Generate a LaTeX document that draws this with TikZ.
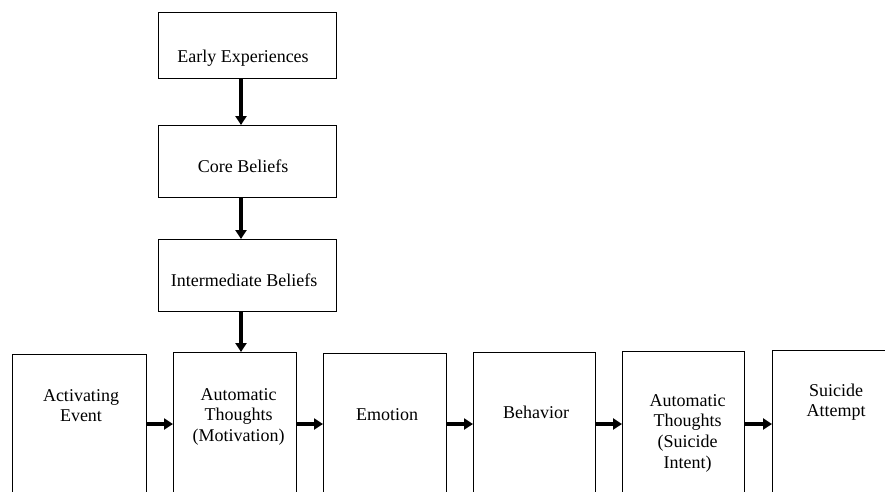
\documentclass[tikz,border=0pt]{standalone}
\usepackage{fontspec}
\setmainfont{Liberation Serif}
\usetikzlibrary{arrows.meta}
% fixes the height of the first text line so captions sit on a known baseline
\newcommand{\firstline}{\rule{0pt}{13pt}}
\begin{document}
\begin{tikzpicture}[x=1pt,y=-1pt,
  box/.style={draw, line width=1.3pt, rectangle, inner sep=0pt, anchor=north west},
  caption/.style={font=\fontsize{18}{20.6}\selectfont, align=center, inner sep=0pt, anchor=north},
  flow/.style={line width=3.4pt, -{Triangle[length=9pt,width=11pt]}}
]
\fill[white] (0,0) rectangle (885,491);
\clip (0,0) rectangle (885,491);

% vertical chain of beliefs
\node[box, minimum width=178pt, minimum height=66pt] (early) at (158,12) {};
\node[box, minimum width=178pt, minimum height=72pt] (core)  at (158,125) {};
\node[box, minimum width=178pt, minimum height=72pt] (inter) at (158,239) {};

\node[caption] (earlyT) at (243,49)  {\firstline Early Experiences};
\node[caption] (coreT)  at (243,159) {\firstline Core Beliefs};
\node[caption] (interT) at (244,273) {\firstline Intermediate Beliefs};

% horizontal sequence, boxes run past the lower edge
\node[box, minimum width=134pt, minimum height=200pt] (act) at (12,354)  {};
\node[box, minimum width=123pt, minimum height=200pt] (atm) at (173,352) {};
\node[box, minimum width=123pt, minimum height=200pt] (emo) at (323,353) {};
\node[box, minimum width=122pt, minimum height=200pt] (beh) at (473,352) {};
\node[box, minimum width=122pt, minimum height=200pt] (ats) at (622,351) {};
\node[box, minimum width=150pt, minimum height=200pt] (att) at (772,350) {};

\node[caption] (actT) at (81,388)    {\firstline Activating\\Event};
\node[caption] (atmT) at (238.5,387) {\firstline Automatic\\Thoughts\\(Motivation)};
\node[caption] (emoT) at (387,407)   {\firstline Emotion};
\node[caption] (behT) at (536,405)   {\firstline Behavior};
\node[caption] (atsT) at (687.5,393) {\firstline Automatic\\Thoughts\\(Suicide\\Intent)};
\node[caption] (attT) at (836,383)   {\firstline Suicide\\Attempt};

% connectors
\coordinate (vx) at (241,0);
\coordinate (hy) at (0,424);
\draw[flow] (early.south -| vx) -- (core.north -| vx);
\draw[flow] (core.south -| vx)  -- (inter.north -| vx);
\draw[flow] (inter.south -| vx) -- (atm.north -| vx);

\draw[flow] (act.east |- hy) -- (atm.west |- hy);
\draw[flow] (atm.east |- hy) -- (emo.west |- hy);
\draw[flow] (emo.east |- hy) -- (beh.west |- hy);
\draw[flow] (beh.east |- hy) -- (ats.west |- hy);
\draw[flow] (ats.east |- hy) -- (att.west |- hy);
\end{tikzpicture}
\end{document}
